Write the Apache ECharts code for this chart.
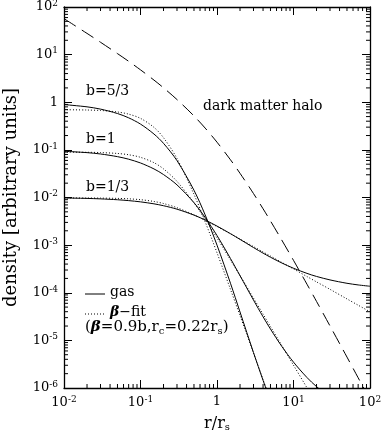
<!DOCTYPE html>
<html><head><meta charset="utf-8">
<script src="https://cdn.jsdelivr.net/npm/echarts@6/dist/echarts.min.js"></script>
<style>html,body{margin:0;padding:0;background:#fff}#c{width:383px;height:441px}</style>
</head><body><div id="c"></div>
<script>
// r / r_s sample positions
const xValues = [0.01,0.02,0.03,0.05,0.07,0.1,0.15,0.2,0.3,0.5,0.7,1,1.5,2,3,4,5,7,10,15,20,30,50,70,100];
// gas profiles (solid)
const gasB53 = [0.894,0.801,0.718,0.580,0.471,0.348,0.215,0.137,0.0595,0.0142,0.00432,0.00100,1.58e-4,3.94e-5,5.54e-6,1.45e-6,5.4e-7];
const gasB1  = [0.0935,0.0875,0.0820,0.0721,0.0637,0.0531,0.0398,0.0303,0.0184,0.00779,0.00381,0.00159,5.23e-4,2.28e-4,7.02e-5,3.13e-5,1.73e-5,7.56e-6,3.49e-6,1.66e-6,1.07e-6,6.4e-7];
const gasB13 = [0.00978,0.00957,0.00936,0.00897,0.00860,0.00810,0.00736,0.00672,0.00569,0.00427,0.00337,0.00251,0.00174,0.00132,8.89e-4,6.79e-4,5.57e-4,4.23e-4,3.27e-4,2.55e-4,2.20e-4,1.86e-4,1.58e-4,1.46e-4,1.37e-4];
// beta-model fits (dotted)
const fitB53 = [0.697,0.687,0.672,0.625,0.563,0.459,0.297,0.180,0.0658,0.0117,0.00310,6.92e-4,1.18e-4,3.31e-5,5.41e-6,1.49e-6,5.5e-7];
const fitB1  = [0.0897,0.0890,0.0878,0.0841,0.0790,0.0698,0.0538,0.0399,0.0218,0.00772,0.00348,0.00142,4.91e-4,2.29e-4,7.72e-5,3.56e-5,1.95e-5,7.88e-6,3.01e-6,1.01e-6,4.6e-7];
const fitB13 = [0.00979,0.00976,0.00972,0.00958,0.00938,0.00901,0.00825,0.00747,0.00611,0.00432,0.00331,0.00246,0.00173,0.00134,9.31e-4,7.19e-4,5.89e-4,4.35e-4,3.16e-4,2.19e-4,1.69e-4,1.18e-4,7.42e-5,5.48e-5,3.98e-5];
// dark matter halo (dashed)
const halo = [57,27.9,18.2,10.5,7.24,4.79,2.92,2.01,1.14,0.516,0.287,0.145,0.0619,0.0322,0.0121,0.0058,0.00322,0.00129,4.79e-4,1.51e-4,6.58e-5,2.01e-5,4.46e-6,1.64e-6,5.7e-7];
// tick labels, keyed by decade exponent
const xTickExp = [-2,-1,0,1,2];
const xTickLabels = ['10{s|-2}','10{s|-1}','1','10{s|1}','10{s|2}'];
const yTickExp = [2,1,0,-1,-2,-3,-4,-5,-6];
const yTickLabels = ['10{s|2}','10{s|1}','1','10{s|-1}','10{s|-2}','10{s|-3}','10{s|-4}','10{s|-5}','10{s|-6}'];

const FONT = 'DejaVu Serif';
const pairs = arr => xValues.map((x,i)=> [x, i < arr.length ? arr[i] : null]);

const minorX = [], minorY = [];
for (let e=-2; e<2; e++) for (let m=2; m<=9; m++) minorX.push([m*Math.pow(10,e), 1e-6]);
for (let e=-6; e<2; e++) for (let m=2; m<=9; m++) minorY.push([0.01, m*Math.pow(10,e)]);

function labelFmt(exps, labels){
  return v => { const e = Math.round(Math.log10(v)); const i = exps.indexOf(e); return i<0 ? '' : labels[i]; };
}
const richLab = { s:{fontSize:9, fontFamily:FONT, color:'#000', verticalAlign:'top', padding:[0,0,7,0]} };

const axisCommon = {
  type:'log', logBase:10,
  axisLine:{lineStyle:{color:'#000', width:1.3}},
  axisTick:{inside:true, length:8, lineStyle:{color:'#000', width:1}},
  splitLine:{show:false},
};

const lineS = (name, arr, type, w) => ({
  name, type:'line', data: pairs(arr), showSymbol:false, symbol:'none',
  smooth:0.3, connectNulls:false, clip:true,
  lineStyle:{color:'#000', width:w||1, type:type}
});

const chart = echarts.init(document.getElementById('c'), null, {renderer:'canvas'});
chart.setOption({
  animation:false,
  backgroundColor:'#fff',
  grid:{left:64, right:13, top:7, bottom:53, containLabel:false, outerBoundsMode:'none'},
  xAxis:[
    Object.assign({}, axisCommon, {min:0.01, max:100, position:'bottom',
      axisLabel:{formatter:labelFmt(xTickExp,xTickLabels), color:'#000', fontFamily:FONT, fontSize:13, margin:7, rich:richLab},
      name:'r/r{b|s}', nameLocation:'middle', nameGap:27,
      nameTextStyle:{color:'#000', fontFamily:FONT, fontSize:16, rich:{b:{fontSize:10, fontFamily:FONT, color:'#000', verticalAlign:'bottom', padding:[7,0,0,0]}}}}),
    Object.assign({}, axisCommon, {min:0.01, max:100, position:'top', axisLabel:{show:false}})
  ],
  yAxis:[
    Object.assign({}, axisCommon, {min:1e-6, max:100, position:'left', splitNumber:8,
      axisLabel:{formatter:labelFmt(yTickExp,yTickLabels), color:'#000', fontFamily:FONT, fontSize:13, margin:6, rich:richLab},
      name:'density [arbitrary units]', nameLocation:'middle', nameGap:44,
      nameTextStyle:{color:'#000', fontFamily:FONT, fontSize:18}}),
    Object.assign({}, axisCommon, {min:1e-6, max:100, position:'right', splitNumber:8, axisLabel:{show:false}})
  ],
  series:[
    lineS('halo', halo, [14,7], 1),
    lineS('gas b=5/3', gasB53, 'solid', 1),
    lineS('gas b=1', gasB1, 'solid', 1),
    lineS('gas b=1/3', gasB13, 'solid', 1),
    lineS('fit b=5/3', fitB53, [1,2], 1),
    lineS('fit b=1', fitB1, [1,2], 1),
    lineS('fit b=1/3', fitB13, [1,2], 1),
    { type:'custom', data:minorX, clip:false, silent:true, renderItem(params, api){
        const x = api.value(0);
        const b = api.coord([x, 1e-6]), t = api.coord([x, 100]);
        return {type:'group', children:[
          {type:'line', shape:{x1:b[0],y1:b[1],x2:b[0],y2:b[1]-4}, style:{stroke:'#000', lineWidth:1}},
          {type:'line', shape:{x1:t[0],y1:t[1],x2:t[0],y2:t[1]+4}, style:{stroke:'#000', lineWidth:1}}
        ]};
    }},
    { type:'custom', data:minorY, clip:false, silent:true, renderItem(params, api){
        const y = api.value(1);
        const l = api.coord([0.01, y]), r = api.coord([100, y]);
        return {type:'group', children:[
          {type:'line', shape:{x1:l[0],y1:l[1],x2:l[0]+4,y2:l[1]}, style:{stroke:'#000', lineWidth:1}},
          {type:'line', shape:{x1:r[0],y1:r[1],x2:r[0]-4,y2:r[1]}, style:{stroke:'#000', lineWidth:1}}
        ]};
    }}
  ],
  graphic:[
    {type:'text', left:86, top:84, style:{text:'b=5/3', font:'14px "DejaVu Serif"', fill:'#000'}},
    {type:'text', left:86, top:132, style:{text:'b=1', font:'14px "DejaVu Serif"', fill:'#000'}},
    {type:'text', left:86, top:180, style:{text:'b=1/3', font:'14px "DejaVu Serif"', fill:'#000'}},
    {type:'text', left:203, top:99, style:{text:'dark matter halo', font:'14px "DejaVu Serif"', fill:'#000'}},
    {type:'line', shape:{x1:85,y1:294,x2:105,y2:294}, style:{stroke:'#000', lineWidth:1}},
    {type:'text', left:110, top:285, style:{text:'gas', font:'14px "DejaVu Serif"', fill:'#000'}},
    {type:'line', shape:{x1:85,y1:314,x2:105,y2:314}, style:{stroke:'#000', lineWidth:1, lineDash:[1,2]}},
    {type:'text', left:110, top:305, style:{text:'{bb|β}−fit', font:'14px "DejaVu Serif"', fill:'#000',
      rich:{bb:{font:'bold italic 14px "DejaVu Serif"', fill:'#000'}}}},
    {type:'text', left:85, top:320, style:{text:'({bb|β}=0.9b,r{u|c}=0.22r{u|s})', font:'15px "DejaVu Serif"', fill:'#000',
      rich:{bb:{font:'bold italic 15px "DejaVu Serif"', fill:'#000'}, u:{font:'10px "DejaVu Serif"', fill:'#000', verticalAlign:'bottom', padding:[7,0,0,0]}}}}
  ]
});
</script></body></html>
